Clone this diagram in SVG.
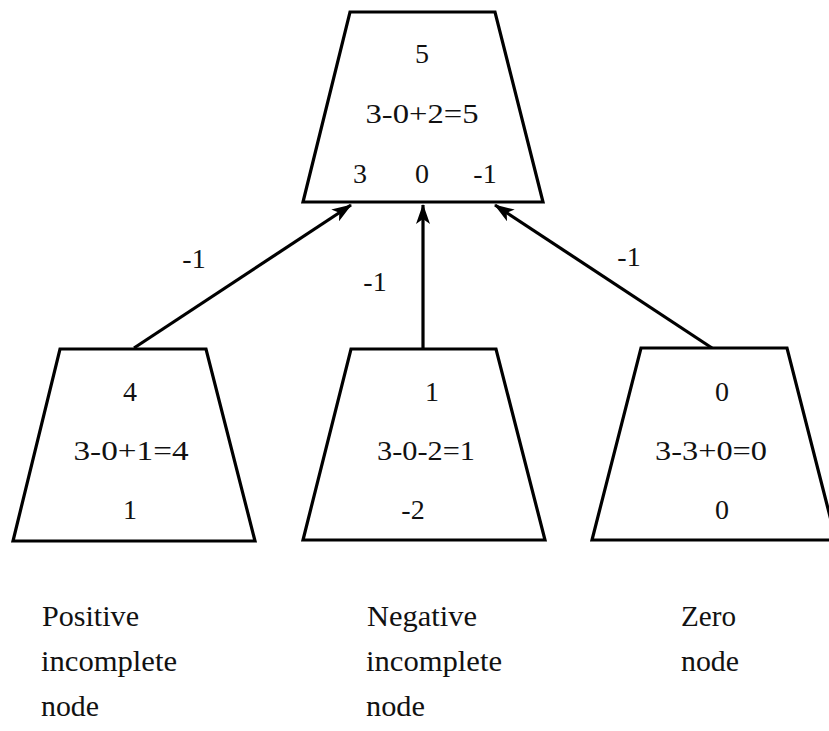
<svg xmlns="http://www.w3.org/2000/svg" width="829" height="731" viewBox="0 0 829 731">
<style>
.shape{fill:#fff;stroke:#000;stroke-width:3.2;stroke-linejoin:miter}
.t{font-family:"Liberation Serif","DejaVu Serif",serif;font-size:28px;fill:#111;text-anchor:middle}
.l{font-family:"Liberation Serif","DejaVu Serif",serif;font-size:29px;fill:#111}
.edge{stroke:#000;stroke-width:3.2;fill:none;marker-end:url(#ah)}
</style>
<defs>
<marker id="ah" viewBox="0 0 20 14" refX="19" refY="7" markerWidth="20" markerHeight="14" markerUnits="userSpaceOnUse" orient="auto">
<path d="M0,0 L20,7 L0,14 L5,7 Z" fill="#000"/>
</marker>
</defs>
<rect width="829" height="731" fill="#fff"/>
<g id="connectors">
<line class="edge" x1="134" y1="348" x2="351" y2="205"/>
<line class="edge" x1="423" y1="348" x2="423" y2="205"/>
<line class="edge" x1="712" y1="348" x2="495" y2="205"/>
<text class="t" x="194" y="268">-1</text>
<text class="t" x="375" y="291">-1</text>
<text class="t" x="629" y="266">-1</text>
</g>
<g id="root">
<polygon class="shape" points="350,12 495,12 543,202 303,202"/>
<text class="t" x="422" y="63">5</text>
<text class="t" x="422" y="123" textLength="113" lengthAdjust="spacingAndGlyphs">3-0+2=5</text>
<text class="t" x="360" y="183">3</text>
<text class="t" x="422" y="183">0</text>
<text class="t" x="485" y="183">-1</text>
</g>
<g id="left">
<polygon class="shape" points="60,349 206,349 255,541 13,541"/>
<text class="t" x="130" y="401">4</text>
<text class="t" x="131" y="460" textLength="115" lengthAdjust="spacingAndGlyphs">3-0+1=4</text>
<text class="t" x="130" y="519">1</text>
</g>
<g id="middle">
<polygon class="shape" points="351,349 496,349 545,540 303,540"/>
<text class="t" x="432" y="401">1</text>
<text class="t" x="426" y="460" textLength="98" lengthAdjust="spacingAndGlyphs">3-0-2=1</text>
<text class="t" x="413" y="519">-2</text>
</g>
<g id="right">
<polygon class="shape" points="641,348 787,348 836,540 592,540"/>
<text class="t" x="722" y="401">0</text>
<text class="t" x="711" y="460" textLength="112" lengthAdjust="spacingAndGlyphs">3-3+0=0</text>
<text class="t" x="722" y="519">0</text>
</g>
<g id="labels">
<text class="l" x="42" y="626" textLength="97" lengthAdjust="spacingAndGlyphs">Positive</text>
<text class="l" x="41" y="671" textLength="136" lengthAdjust="spacingAndGlyphs">incomplete</text>
<text class="l" x="41" y="716" textLength="58" lengthAdjust="spacingAndGlyphs">node</text>
<text class="l" x="367" y="626" textLength="110" lengthAdjust="spacingAndGlyphs">Negative</text>
<text class="l" x="366" y="671" textLength="136" lengthAdjust="spacingAndGlyphs">incomplete</text>
<text class="l" x="366" y="716" textLength="59" lengthAdjust="spacingAndGlyphs">node</text>
<text class="l" x="681" y="626" textLength="55" lengthAdjust="spacingAndGlyphs">Zero</text>
<text class="l" x="681" y="671" textLength="58" lengthAdjust="spacingAndGlyphs">node</text>
</g>
</svg>
